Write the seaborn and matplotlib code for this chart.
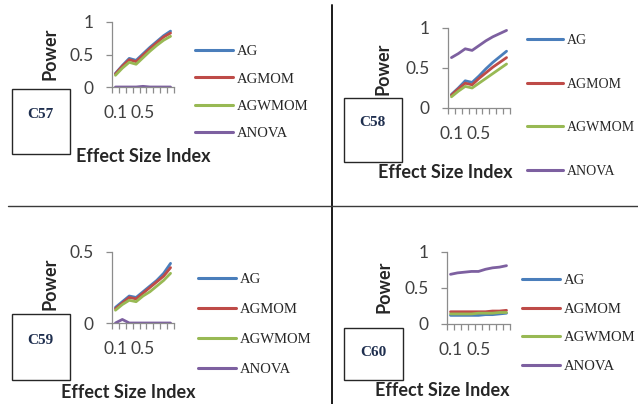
import numpy as np
import pandas as pd
import matplotlib
matplotlib.use('Agg')
import matplotlib.pyplot as plt
import seaborn as sns
from matplotlib.lines import Line2D
from matplotlib.patches import Rectangle

# effect size categories (x axis)
effect_sizes = ['0.1', '0.2', '0.3', '0.4', '0.5', '0.6', '0.7', '0.8', '0.9']
methods = ['AG', 'AGMOM', 'AGWMOM', 'ANOVA']
colors = ['#4A7EBB', '#BE4B48', '#98B954', '#7D60A0']

# C57
c57_ag = [0.21, 0.33, 0.44, 0.41, 0.51, 0.61, 0.70, 0.79, 0.86]
c57_agmom = [0.20, 0.32, 0.42, 0.39, 0.49, 0.59, 0.68, 0.77, 0.83]
c57_agwmom = [0.18, 0.29, 0.38, 0.35, 0.45, 0.55, 0.64, 0.72, 0.78]
c57_anova = [0.0, 0.0, 0.0, 0.0, 0.01, 0.0, 0.0, 0.0, 0.0]

# C58
c58_ag = [0.17, 0.25, 0.34, 0.32, 0.40, 0.49, 0.57, 0.64, 0.71]
c58_agmom = [0.16, 0.24, 0.31, 0.29, 0.37, 0.44, 0.51, 0.57, 0.63]
c58_agwmom = [0.14, 0.21, 0.27, 0.25, 0.31, 0.37, 0.43, 0.49, 0.55]
c58_anova = [0.63, 0.68, 0.74, 0.72, 0.78, 0.84, 0.89, 0.93, 0.97]

# C59
c59_ag = [0.11, 0.15, 0.19, 0.18, 0.22, 0.26, 0.30, 0.35, 0.42]
c59_agmom = [0.10, 0.14, 0.18, 0.17, 0.21, 0.25, 0.29, 0.33, 0.39]
c59_agwmom = [0.09, 0.13, 0.16, 0.15, 0.19, 0.22, 0.26, 0.30, 0.35]
c59_anova = [0.0, 0.025, 0.0, 0.0, 0.0, 0.0, 0.0, 0.0, 0.0]

# C60
c60_ag = [0.12, 0.12, 0.12, 0.12, 0.12, 0.13, 0.13, 0.14, 0.15]
c60_agmom = [0.17, 0.17, 0.17, 0.17, 0.17, 0.17, 0.18, 0.18, 0.19]
c60_agwmom = [0.14, 0.14, 0.14, 0.14, 0.15, 0.15, 0.15, 0.16, 0.16]
c60_anova = [0.69, 0.71, 0.72, 0.73, 0.73, 0.76, 0.78, 0.79, 0.81]

sns.set_theme(style='white')
plt.rcParams['font.family'] = ['Lato', 'DejaVu Sans']

W, H = 638, 404
fig = plt.figure(figsize=(W / 100, H / 100), dpi=100)


def px_rect(left, top, right, bottom):
    return [left / W, 1 - bottom / H, (right - left) / W, (bottom - top) / H]


# panel layout in pixels: axes box, ylim/ticks, label spots, legend, case box
panels = [
    dict(name='C57', data=[c57_ag, c57_agmom, c57_agwmom, c57_anova],
         ax=(112, 22, 174, 87), ymax=1.0, yticks=[0, 0.5, 1], yfmt=['0', '0.5', '1'],
         power=(50, 54), esi=(143, 157), leg=(195, 45), legsp=0.97, legfs=10.5,
         box=(12, 89, 70, 154), boxtxt=(40, 114)),
    dict(name='C58', data=[c58_ag, c58_agmom, c58_agwmom, c58_anova],
         ax=(448, 28, 510, 108), ymax=1.0, yticks=[0, 0.5, 1], yfmt=['0', '0.5', '1'],
         power=(383, 69), esi=(445, 173), leg=(527, 34), legsp=2.2, legfs=10,
         box=(344, 98, 402, 162), boxtxt=(372, 123)),
    dict(name='C59', data=[c59_ag, c59_agmom, c59_agwmom, c59_anova],
         ax=(112, 252, 174, 323), ymax=0.5, yticks=[0, 0.5], yfmt=['0', '0.5'],
         power=(50, 284), esi=(128, 393), leg=(198, 273), legsp=1.15, legfs=10.5,
         box=(12, 314, 70, 380), boxtxt=(40, 340)),
    dict(name='C60', data=[c60_ag, c60_agmom, c60_agwmom, c60_anova],
         ax=(447, 252, 510, 324), ymax=1.0, yticks=[0, 0.5, 1], yfmt=['0', '0.5', '1'],
         power=(384, 287), esi=(442, 390), leg=(522, 274), legsp=1.05, legfs=10.5,
         box=(344, 328, 403, 380), boxtxt=(373, 353)),
]

pos = np.arange(len(effect_sizes))

for p in panels:
    l, t, r, b = p['ax']
    ax = fig.add_axes(px_rect(l, t, r, b))
    df = pd.DataFrame({m: v for m, v in zip(methods, p['data'])})
    df['pos'] = pos
    long = df.melt(id_vars='pos', var_name='method', value_name='power')
    sns.lineplot(data=long, x='pos', y='power', hue='method', hue_order=methods,
                 palette=colors, linewidth=2.0, ax=ax, legend=False)
    ax.set_xlim(-0.5, len(effect_sizes) - 0.5)
    ax.set_ylim(0, p['ymax'])
    for s in ['top', 'right']:
        ax.spines[s].set_visible(False)
    for s in ['left', 'bottom']:
        ax.spines[s].set_color('#8C8C8C')
        ax.spines[s].set_linewidth(0.9)
    ax.set_yticks(p['yticks'])
    ax.set_yticklabels(p['yfmt'])
    ax.set_xticks([0, 4])
    ax.set_xticklabels([effect_sizes[0], effect_sizes[4]])
    ax.set_xticks(np.arange(-0.5, len(effect_sizes)), minor=True)
    ax.tick_params(axis='y', which='major', direction='out', length=4, width=0.9,
                   color='#8C8C8C', left=True, pad=9, labelsize=12.5, labelcolor='#404040')
    ax.tick_params(axis='x', which='major', length=0, pad=13, labelsize=12.5,
                   labelcolor='#404040')
    ax.tick_params(axis='x', which='minor', direction='out', length=4, width=0.9,
                   color='#8C8C8C', bottom=True)
    ax.set_xlabel('')
    ax.set_ylabel('')
    ax.grid(False)

    fig.text(p['power'][0] / W, 1 - p['power'][1] / H, 'Power', rotation=90,
             ha='center', va='center', fontsize=13, fontweight='bold', color='#262626')
    fig.text(p['esi'][0] / W, 1 - p['esi'][1] / H, 'Effect Size Index',
             ha='center', va='center', fontsize=13, fontweight='bold', color='#262626')

    handles = [Line2D([0], [0], color=c, lw=2.2) for c in colors]
    ax.legend(handles, methods, loc='upper left',
              bbox_to_anchor=(p['leg'][0] / W, 1 - p['leg'][1] / H),
              bbox_transform=fig.transFigure, frameon=False,
              prop={'family': 'Liberation Serif', 'size': p['legfs']},
              handlelength=2.6, handletextpad=0.3, labelspacing=p['legsp'],
              borderpad=0, borderaxespad=0)

    bl, bt, br, bb = p['box']
    fig.add_artist(Rectangle((bl / W, 1 - bb / H), (br - bl) / W, (bb - bt) / H,
                             transform=fig.transFigure, fill=False,
                             edgecolor='#262626', linewidth=1.0))
    fig.text(p['boxtxt'][0] / W, 1 - p['boxtxt'][1] / H, p['name'],
             ha='center', va='center', fontsize=11, fontweight='bold',
             family='Liberation Serif', color='#1F2F4F')

# quadrant dividers
fig.add_artist(Line2D([332 / W, 332 / W], [0, 1 - 5 / H], transform=fig.transFigure,
                      color='#1A1A1A', linewidth=1.4))
fig.add_artist(Line2D([8 / W, 1], [1 - 206 / H, 1 - 206 / H], transform=fig.transFigure,
                      color='#3A3A3A', linewidth=1.0))

fig.savefig('out.png', dpi=100, facecolor='white')
